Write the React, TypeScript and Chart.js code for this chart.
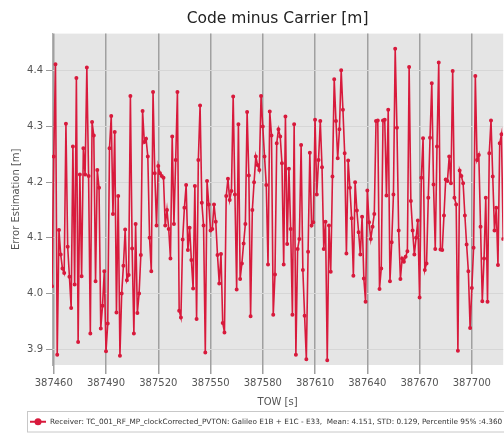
import React, { useEffect, useRef } from 'react';
import { Chart, registerables } from 'chart.js';

Chart.register(...registerables);

const TITLE = 'Code minus Carrier [m]';
const X_LABEL = 'TOW [s]';
const Y_LABEL = 'Error Estimation [m]';
const SERIES_LABEL =
  'Receiver: TC_001_RF_MP_clockCorrected_PVTON: Galileo E1B + E1C - E33,  Mean: 4.151, STD: 0.129, Percentile 95% :4.360';

const X_TICKS = [387460, 387490, 387520, 387550, 387580, 387610, 387640, 387670, 387700];
const Y_TICKS = [3.9, 4.0, 4.1, 4.2, 4.3, 4.4];
const X_RANGE = [387459, 387718];
const Y_RANGE = [3.8715, 4.467];

const TOW = [
  387459, 387460, 387461, 387462, 387463, 387464, 387465, 387466, 387467, 387468,
  387469, 387470, 387471, 387472, 387473, 387474, 387475, 387476, 387477, 387478,
  387479, 387480, 387481, 387482, 387483, 387484, 387485, 387486, 387487, 387488,
  387489, 387490, 387491, 387492, 387493, 387494, 387495, 387496, 387497, 387498,
  387499, 387500, 387501, 387502, 387503, 387504, 387505, 387506, 387507, 387508,
  387509, 387510, 387511, 387512, 387513, 387514, 387515, 387516, 387517, 387518,
  387519, 387520, 387521, 387522, 387523, 387524, 387525, 387526, 387527, 387528,
  387529, 387530, 387531, 387532, 387533, 387534, 387535, 387536, 387537, 387538,
  387539, 387540, 387541, 387542, 387543, 387544, 387545, 387546, 387547, 387548,
  387549, 387550, 387551, 387552, 387553, 387554, 387555, 387556, 387557, 387558,
  387559, 387560, 387561, 387562, 387563, 387564, 387565, 387566, 387567, 387568,
  387569, 387570, 387571, 387572, 387573, 387574, 387575, 387576, 387577, 387578,
  387579, 387580, 387581, 387582, 387583, 387584, 387585, 387586, 387587, 387588,
  387589, 387590, 387591, 387592, 387593, 387594, 387595, 387596, 387597, 387598,
  387599, 387600, 387601, 387602, 387603, 387604, 387605, 387606, 387607, 387608,
  387609, 387610, 387611, 387612, 387613, 387614, 387615, 387616, 387617, 387618,
  387619, 387620, 387621, 387622, 387623, 387624, 387625, 387626, 387627, 387628,
  387629, 387630, 387631, 387632, 387633, 387634, 387635, 387636, 387637, 387638,
  387639, 387640, 387641, 387642, 387643, 387644, 387645, 387646, 387647, 387648,
  387649, 387650, 387651, 387652, 387653, 387654, 387655, 387656, 387657, 387658,
  387659, 387660, 387661, 387662, 387663, 387664, 387665, 387666, 387667, 387668,
  387669, 387670, 387671, 387672, 387673, 387674, 387675, 387676, 387677, 387678,
  387679, 387680, 387681, 387682, 387683, 387684, 387685, 387686, 387687, 387688,
  387689, 387690, 387691, 387692, 387693, 387694, 387695, 387696, 387697, 387698,
  387699, 387700, 387701, 387702, 387703, 387704, 387705, 387706, 387707, 387708,
  387709, 387710, 387711, 387712, 387713, 387714, 387715, 387716, 387717, 387718,
];

const CMC = [
  4.013, 4.246, 4.412, 3.890, 4.114, 4.070, 4.045, 4.037, 4.305, 4.084,
  4.030, 3.974, 4.264, 4.016, 4.387, 3.913, 4.214, 4.031, 4.261, 4.214,
  4.406, 4.211, 3.928, 4.308, 4.284, 4.022, 4.222, 4.190, 3.937, 3.978,
  4.040, 3.896, 3.946, 4.261, 4.319, 4.143, 4.290, 3.966, 4.175, 3.888,
  4.000, 4.050, 4.115, 4.024, 4.033, 4.355, 4.081, 3.928, 4.125, 3.965,
  4.000, 4.069, 4.328, 4.272, 4.278, 4.246, 4.100, 4.040, 4.362, 4.216,
  4.122, 4.229, 4.216, 4.211, 4.208, 4.122, 4.150, 4.116, 4.063, 4.282,
  4.125, 4.240, 4.362, 3.969, 3.957, 4.097, 4.154, 4.195, 4.078, 4.118,
  4.060, 4.009, 4.193, 3.954, 4.240, 4.338, 4.163, 4.122, 3.894, 4.202,
  4.160, 4.113, 4.116, 4.160, 4.129, 4.069, 4.018, 4.071, 3.947, 3.930,
  4.175, 4.206, 4.168, 4.184, 4.354, 4.178, 4.007, 4.304, 4.026, 4.054,
  4.090, 4.125, 4.326, 4.212, 3.959, 4.150, 4.200, 4.246, 4.231, 4.222,
  4.355, 4.300, 4.246, 4.195, 4.052, 4.327, 4.284, 3.962, 4.034, 4.270,
  4.295, 4.282, 4.234, 4.052, 4.318, 4.089, 4.224, 4.116, 3.962, 4.304,
  3.890, 4.080, 4.098, 4.267, 4.042, 3.960, 3.882, 4.075, 4.253, 4.122,
  4.128, 4.312, 4.178, 4.240, 4.310, 4.227, 4.080, 4.129, 3.880, 4.122,
  4.039, 4.210, 4.385, 4.310, 4.243, 4.295, 4.401, 4.330, 4.252, 4.072,
  4.239, 4.190, 4.135, 4.032, 4.200, 4.149, 4.110, 4.070, 4.138, 4.027,
  3.985, 4.185, 4.128, 4.098, 4.120, 4.143, 4.310, 4.311, 4.008, 4.045,
  4.311, 4.312, 4.176, 4.330, 4.022, 4.092, 4.178, 4.440, 4.298, 4.113,
  4.026, 4.063, 4.057, 4.066, 4.076, 4.407, 4.166, 4.113, 4.070, 4.100,
  4.131, 3.993, 4.208, 4.279, 4.042, 4.054, 4.172, 4.280, 4.378, 4.196,
  4.080, 4.264, 4.415, 4.079, 4.078, 4.140, 4.205, 4.202, 4.246, 4.198,
  4.400, 4.172, 4.160, 3.897, 4.221, 4.211, 4.198, 4.140, 4.088, 4.040,
  3.938, 4.010, 4.082, 4.391, 4.240, 4.249, 4.120, 3.986, 4.063, 4.172,
  3.985, 4.252, 4.311, 4.210, 4.113, 4.154, 4.051, 4.270, 4.286, 4.098,
];

const RED = '#d81a3c';
const FONT = 'DejaVu Sans';

const plotBackground = {
  id: 'plotBackground',
  beforeDraw(chart: any) {
    const { ctx, chartArea } = chart;
    ctx.save();
    ctx.fillStyle = '#e5e5e5';
    ctx.fillRect(chartArea.left, chartArea.top, chartArea.right - chartArea.left, chartArea.bottom - chartArea.top);
    ctx.restore();
  },
};

const boxedLegend = {
  id: 'boxedLegend',
  afterDraw(chart: any) {
    const { ctx } = chart;
    const ds = chart.data.datasets[0];
    const top = 411.5;
    const h = 20.5;
    const left = 27.5;
    const cy = top + h / 2;
    ctx.save();
    ctx.fillStyle = '#ffffff';
    ctx.strokeStyle = '#c8c8c8';
    ctx.lineWidth = 1;
    ctx.fillRect(left, top, 520, h);
    ctx.strokeRect(left, top, 520, h);
    ctx.strokeStyle = ds.borderColor;
    ctx.lineWidth = 2;
    ctx.beginPath();
    ctx.moveTo(30, cy);
    ctx.lineTo(46, cy);
    ctx.stroke();
    ctx.fillStyle = ds.borderColor;
    ctx.beginPath();
    ctx.arc(38, cy, 3.5, 0, Math.PI * 2);
    ctx.fill();
    ctx.fillStyle = '#333333';
    ctx.font = `7.3px "${FONT}"`;
    ctx.textBaseline = 'middle';
    ctx.textAlign = 'left';
    ctx.fillText(ds.label, 50, cy);
    ctx.restore();
  },
};

export default function App() {
  const ref = useRef<HTMLCanvasElement | null>(null);

  useEffect(() => {
    if (!ref.current) return;
    const chart = new Chart(ref.current, {
      type: 'line',
      data: {
        datasets: [
          {
            label: SERIES_LABEL,
            data: TOW.map((t, i) => ({ x: t, y: CMC[i] })),
            borderColor: RED,
            backgroundColor: RED,
            borderWidth: 1.6,
            pointRadius: 1.2,
            pointHoverRadius: 0,
            tension: 0,
          },
        ],
      },
      options: {
        animation: false,
        responsive: true,
        maintainAspectRatio: false,
        layout: { padding: { left: 0, right: 0, top: 0, bottom: 22 } },
        plugins: {
          legend: { display: false },
          tooltip: { enabled: false },
          title: {
            display: true,
            fullSize: false,
            text: TITLE,
            color: '#222222',
            font: { family: FONT, size: 15.5, weight: 'normal' },
            padding: { top: 9.5, bottom: 5.5 },
          },
        },
        scales: {
          x: {
            type: 'linear',
            min: X_RANGE[0],
            max: X_RANGE[1],
            afterBuildTicks: (s: any) => {
              s.ticks = X_TICKS.map((v) => ({ value: v }));
            },
            ticks: {
              color: '#555555',
              font: { family: FONT, size: 10 },
              padding: 3,
              maxRotation: 0,
              autoSkip: false,
              callback: (v: any) => String(v),
            },
            grid: { color: '#a0a0a0', lineWidth: 1.5, tickLength: 9, drawTicks: true },
            border: { display: false },
            title: {
              display: true,
              text: X_LABEL,
              color: '#555555',
              font: { family: FONT, size: 10 },
              padding: { top: 4, bottom: 4 },
            },
          },
          y: {
            type: 'linear',
            min: Y_RANGE[0],
            max: Y_RANGE[1],
            afterBuildTicks: (s: any) => {
              s.ticks = Y_TICKS.map((v) => ({ value: v }));
            },
            afterFit: (s: any) => {
              s.width = 52;
            },
            ticks: {
              color: '#555555',
              font: { family: FONT, size: 10 },
              padding: 3,
              callback: (v: any) => Number(v).toFixed(1),
            },
            grid: { color: '#d6d6d6', lineWidth: 1, tickLength: 6, tickColor: '#9a9a9a', drawTicks: true },
            border: { display: true, color: '#b0b0b0', width: 1 },
            title: {
              display: true,
              text: Y_LABEL,
              color: '#555555',
              font: { family: FONT, size: 10 },
              padding: { top: 10, bottom: 0 },
            },
          },
        },
      },
      plugins: [plotBackground, boxedLegend],
    });
    return () => chart.destroy();
  }, []);

  return (
    <div
      style={{
        position: 'fixed',
        left: 0,
        top: 0,
        width: 504,
        height: 434,
        overflow: 'hidden',
        background: '#ffffff',
      }}
    >
      <div style={{ position: 'relative', width: 506, height: 434 }}>
        <canvas ref={ref} />
      </div>
    </div>
  );
}
